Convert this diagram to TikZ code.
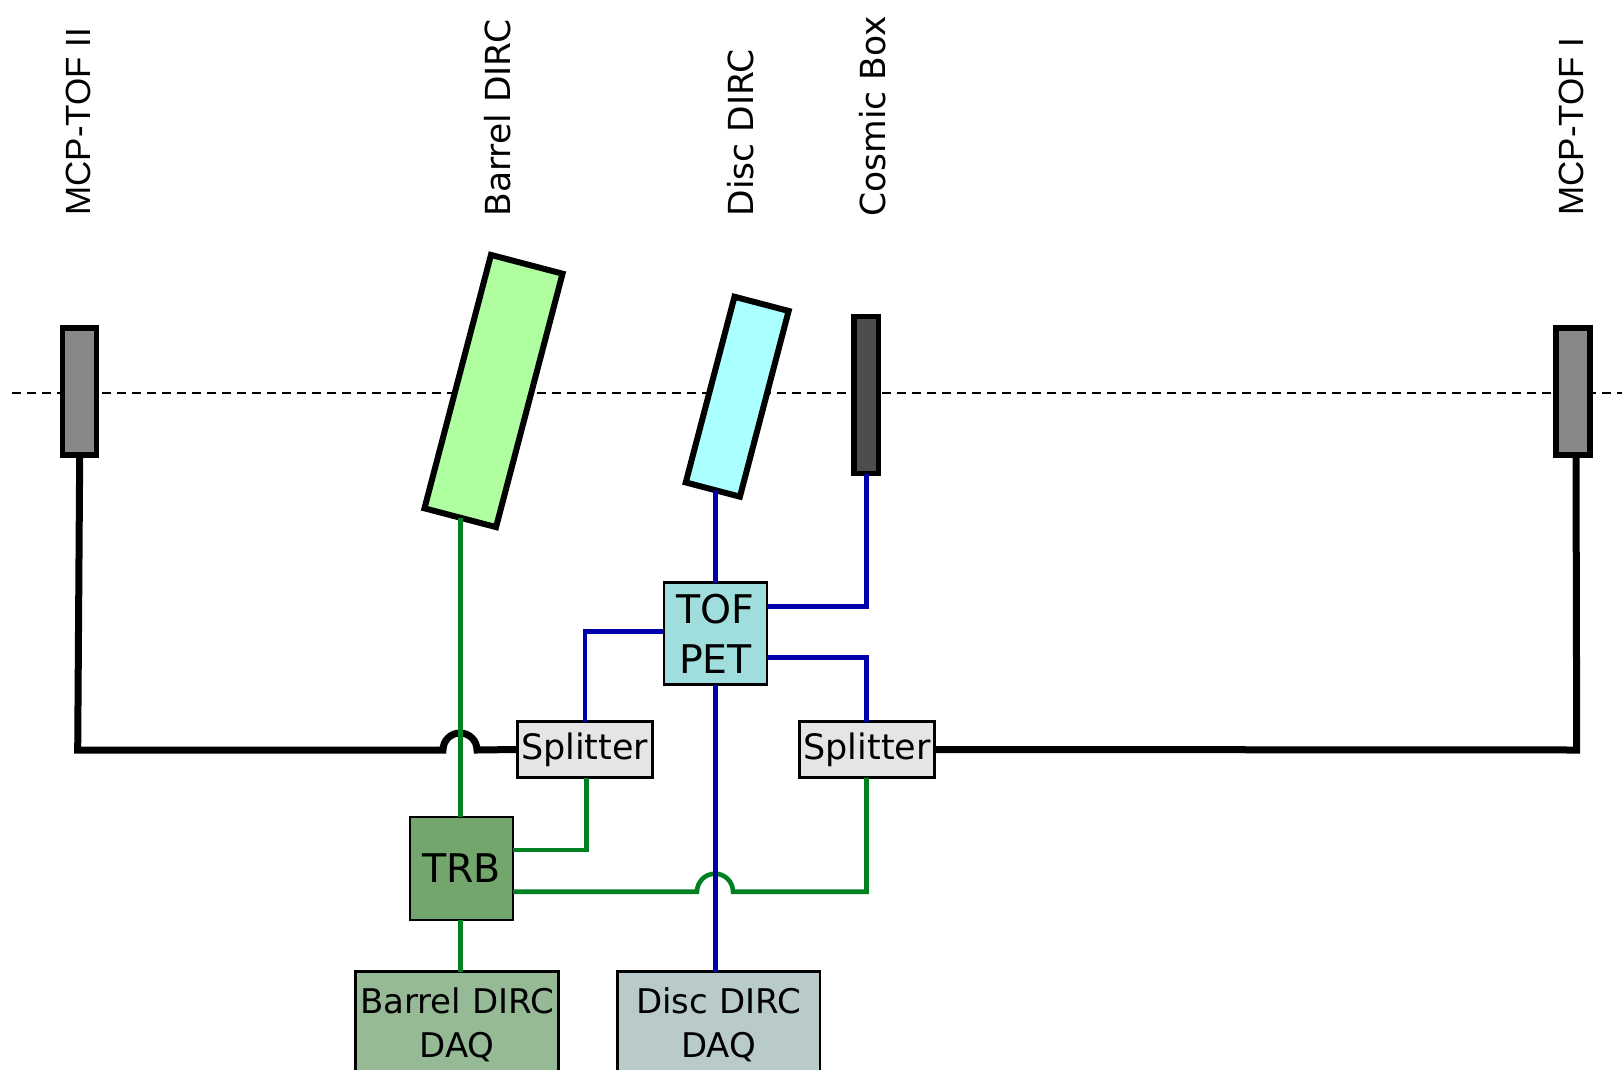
\documentclass[tikz,border=0pt]{standalone}
\usepackage{fontspec}
\setmainfont{DejaVu Sans}
\newfontfamily\arialfont{Liberation Sans}
\definecolor{linegreen}{RGB}{0,128,32}
\definecolor{lineblue}{RGB}{0,0,170}
\definecolor{bargreen}{RGB}{175,255,160}
\definecolor{disccyan}{RGB}{170,255,255}
\definecolor{mcpgray}{RGB}{136,136,136}
\definecolor{cosmicgray}{RGB}{77,77,77}
\definecolor{tofcol}{RGB}{160,222,222}
\definecolor{splitcol}{RGB}{229,229,229}
\definecolor{trbcol}{RGB}{115,166,108}
\definecolor{bdaqcol}{RGB}{150,186,150}
\definecolor{ddaqcol}{RGB}{184,202,202}
\begin{document}
\begin{tikzpicture}[x=1pt,y=-1pt,
  every node/.style={inner sep=0pt,outer sep=0pt},
  blk/.style={line width=7pt,draw=black},
  gline/.style={line width=4.6pt,draw=linegreen},
  bline/.style={line width=4.6pt,draw=lineblue},
  thinbox/.style={draw=black,line width=2.8pt,align=center},
  thickbox/.style={draw=black,line width=6pt},
  midbox/.style={draw=black,line width=5.5pt},
  lbl/.style={rotate=90,anchor=base west,font=\fontsize{34.5}{40}\selectfont},
  lbla/.style={rotate=90,anchor=base west,font=\arialfont\fontsize{35}{40}\selectfont},
  boxfont/.style={font=\fontsize{35}{42}\selectfont},
  bigfont/.style={font=\fontsize{39.5}{50}\selectfont},
  daqfont/.style={font=\fontsize{34}{44.4}\selectfont},
]
\useasboundingbox (0,0) rectangle (1622,1070);
\clip (0,0) rectangle (1622,1070);

% beam axis
\coordinate (dl) at (12,393.3);
\coordinate (dr) at (1622,393.3);
\draw[line width=2.2pt, dash pattern=on 9pt off 6pt] (dl) -- (dr);

% labels
\node[lbla] (lmcp2) at (90,215.5) {MCP-TOF II};
\node[lbl] (lbar) at (510.7,216.5) {Barrel DIRC};
\node[lbl] (ldisc) at (753.3,216.5) {Disc DIRC};
\node[lbl] (lcos) at (885,216.5) {Cosmic Box};
\node[lbla] (lmcp1) at (1583.3,215.5) {MCP-TOF I};

% detectors
\node[midbox, fill=mcpgray, minimum width=34, minimum height=127] (mcp2) at (79.7,391.7) {};
\node[midbox, fill=mcpgray, minimum width=34, minimum height=127] (mcp1) at (1573,391.7) {};
\node[thickbox, fill=bargreen, minimum width=74, minimum height=262, rotate=-14.7] (bar) at (493.5,391) {};
\node[thickbox, fill=disccyan, minimum width=56, minimum height=192, rotate=-14.7] (disc) at (737.2,396.7) {};
\node[midbox, fill=cosmicgray, minimum width=24.5, minimum height=157] (cosmic) at (866.3,395) {};

% electronics
\node[thinbox, fill=tofcol, bigfont, minimum width=103, minimum height=102] (tof) at (715.5,633.8) {TOF\\PET};
\node[thinbox, fill=splitcol, boxfont, minimum width=135, minimum height=56] (splL) at (584.7,749.5) {Splitter};
\node[thinbox, fill=splitcol, boxfont, minimum width=135, minimum height=56] (splR) at (867,749.5) {Splitter};
\node[thinbox, fill=trbcol, bigfont, minimum width=103, minimum height=103] (trb) at (461.5,868.4) {TRB};
\node[thinbox, fill=bdaqcol, daqfont, minimum width=202.6, minimum height=106] (bdaq) at (457,1024.6) {Barrel DIRC\\DAQ};
\node[thinbox, fill=ddaqcol, daqfont, minimum width=202.7, minimum height=106] (ddaq) at (718.6,1024.6) {Disc DIRC\\DAQ};

% black MCP signal lines
\coordinate (k1) at (77.7,750);
\coordinate (k2) at (443,750);
\coordinate (k3) at (1576.7,750);
\draw[blk] (mcp2.south) -- (k1) -- (k2) arc[start angle=180,end angle=0,radius=17pt] -- (splL.west);
\draw[blk] (splR.east) -- (k3) -- ([xshift=3pt]mcp1.south);

% green lines
\coordinate (g1) at (586.5,850);
\coordinate (g2) at (866.5,891.7);
\coordinate (g3) at (733,891.7);
\draw[gline] (bar.south) -- (bar.south |- trb.north);
\draw[gline] (trb.south -| bar.south) -- (bar.south |- bdaq.north);
\draw[gline] (splL.south -| g1) -- (g1) -- (trb.east |- g1);
\draw[gline] (splR.south -| g2) -- (g2) -- (g3) arc[start angle=0,end angle=180,radius=18pt] -- (trb.east |- g2);

% blue lines
\coordinate (b1) at (585,631.7);
\coordinate (b2) at (866.5,606.7);
\coordinate (b3) at (866.5,657.3);
\draw[bline] (tof.north |- disc.south) -- (tof.north);
\draw[bline] (tof.south) -- (tof.south |- ddaq.north);
\draw[bline] (tof.west |- b1) -- (b1) -- (b1 |- splL.north);
\draw[bline] (tof.east |- b2) -- (b2) -- (b2 |- cosmic.south);
\draw[bline] (tof.east |- b3) -- (b3) -- (b3 |- splR.north);
\end{tikzpicture}
\end{document}
